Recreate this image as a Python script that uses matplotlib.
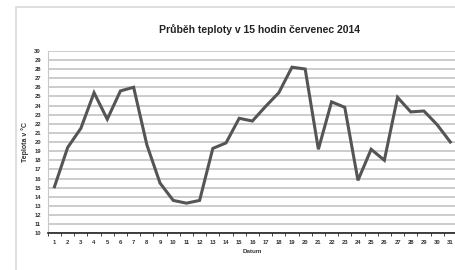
import numpy as np
import matplotlib
matplotlib.use('Agg')
import matplotlib.pyplot as plt
from matplotlib.patches import Rectangle

# data
dny = list(range(1, 32))
teplota = [15.1, 19.4, 21.5, 25.4, 22.5, 25.6, 26.0, 19.7, 15.5, 13.6,
           13.3, 13.6, 19.3, 19.9, 22.6, 22.3, 23.9, 25.4, 28.2, 28.0,
           19.2, 24.4, 23.8, 15.8, 19.2, 18.0, 24.9, 23.3, 23.4, 21.9, 20.0]
y_ticks = list(range(10, 31))
titulek = 'Průběh teploty v 15 hodin červenec 2014'
popis_x = 'Datum'
popis_y = 'Teplota v °C'

plt.rcParams['font.family'] = ['Liberation Sans', 'DejaVu Sans']

fig = plt.figure(figsize=(4.56, 2.70), dpi=100)
fig.patch.set_facecolor('white')

# svetly ramecek grafu (oriznuty vpravo a dole)
fig.patches.append(Rectangle((16/456, -0.1), 1.2, 1 - 7/270 + 0.1,
                             transform=fig.transFigure, fill=False,
                             edgecolor='#d9d9d9', linewidth=1.2))

ax = fig.add_axes([0.105, 0.136, 0.897, 0.676])
ax.plot(dny, teplota, color='#555555', linewidth=2.2, solid_joinstyle='miter', zorder=3)

ax.set_xlim(0.5, 31.5)
ax.set_ylim(10, 30)
ax.set_yticks(y_ticks)
ax.set_xticks(dny)
ax.set_xticks(np.arange(0.5, 32, 1), minor=True)
ax.grid(axis='y', color='#c4c4c4', linewidth=1.2)
ax.set_axisbelow(True)

for s in ['top', 'right']:
    ax.spines[s].set_visible(False)
ax.spines['left'].set_color('#c8c8c8')
ax.spines['bottom'].set_color('#222222')
ax.spines['bottom'].set_linewidth(1.2)

ax.tick_params(axis='x', which='major', length=0, labelsize=4.2, pad=5, labelcolor='#333333')
ax.tick_params(axis='x', which='minor', length=2, color='#222222', direction='out')
ax.tick_params(axis='y', length=0, labelsize=4.2, pad=5, labelcolor='#333333')
for lab in ax.get_xticklabels() + ax.get_yticklabels():
    lab.set_fontweight('bold')

ax.set_xlabel(popis_x, fontsize=4.5, labelpad=3, color='#333333', fontweight='bold')
ax.set_ylabel(popis_y, fontsize=5, labelpad=4, color='#333333', fontweight='bold')

fig.text(260/456, 1 - 30/270, titulek, ha='center', va='center',
         fontsize=7.5, fontweight='bold', color='#222222')

fig.savefig('out.png', dpi=100)
